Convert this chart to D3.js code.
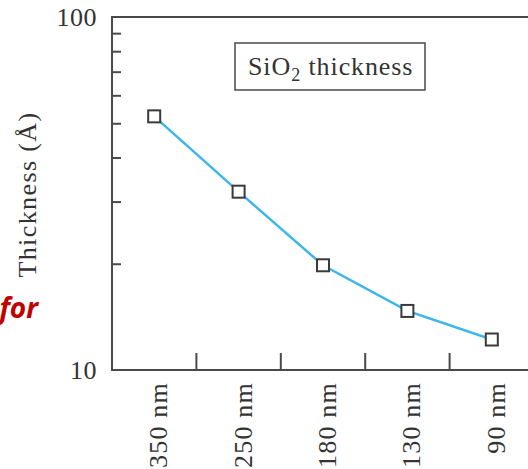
<!DOCTYPE html>
<html>
<head>
<meta charset="utf-8">
<script src="https://cdn.jsdelivr.net/npm/d3@7"></script>
<style>
  html, body { margin: 0; padding: 0; background: #fff; }
  svg { display: block; }
</style>
</head>
<body>
<svg id="chart" width="528" height="469"></svg>
<script>
const categories = ["350 nm", "250 nm", "180 nm", "130 nm", "90 nm"];
const thickness = [52.3, 32.0, 19.8, 14.7, 12.2];
const yMinorTicks = [20, 30, 40, 50, 60, 70, 80, 90];
const yTickLabels = [10, 100];
const yTitle = "Thickness (Å)";
const legendMain = "SiO";
const legendSub = "2";
const legendRest = " thickness";

(function () {
const svg = d3.select("#chart");
const pLeft = 112, pRight = 534, pTop = 17, pBottom = 370;
const serif = "'Liberation Serif', 'Times New Roman', serif";
const axisColor = "#4a4a4a";

const x = d3.scaleBand().domain(categories).range([pLeft, pRight]).padding(0);
const y = d3.scaleLog().domain([10, 100]).range([pBottom, pTop]);

// Plot frame
svg.append("rect")
  .attr("x", pLeft).attr("y", pTop)
  .attr("width", pRight - pLeft).attr("height", pBottom - pTop)
  .attr("fill", "none").attr("stroke", axisColor).attr("stroke-width", 2);

// Left minor ticks (inward)
const yAxis = d3.axisRight(y).tickValues(yMinorTicks).tickSize(9).tickSizeOuter(0).tickFormat("");
const gy = svg.append("g").attr("transform", `translate(${pLeft},0)`).call(yAxis);
gy.select(".domain").remove();
gy.selectAll("line").attr("stroke", axisColor).attr("stroke-width", 2);

// Y tick labels
svg.selectAll("text.ylab").data(yTickLabels).join("text")
  .attr("class", "ylab")
  .attr("x", 97).attr("y", d => y(d))
  .attr("dy", "0.35em")
  .attr("text-anchor", "end")
  .attr("font-family", serif).attr("font-size", 26)
  .attr("letter-spacing", 0.5)
  .attr("fill", "#333")
  .text(d => d);

// Bottom ticks at category boundaries (pointing up)
svg.selectAll("line.xtick").data(categories.slice(1)).join("line")
  .attr("class", "xtick")
  .attr("x1", d => x(d)).attr("x2", d => x(d))
  .attr("y1", pBottom).attr("y2", pBottom - 17)
  .attr("stroke", axisColor).attr("stroke-width", 2);

// X labels rotated
svg.selectAll("text.xlab").data(categories).join("text")
  .attr("class", "xlab")
  .attr("transform", d => `translate(${x(d) + x.bandwidth() / 2 + 13},382) rotate(-90)`)
  .attr("text-anchor", "end")
  .attr("font-family", serif).attr("font-size", 26)
  .attr("letter-spacing", 1.2)
  .attr("fill", "#333")
  .text(d => d);

// Y title
svg.append("text")
  .attr("transform", `translate(36,${(112 + 277) / 2}) rotate(-90)`)
  .attr("text-anchor", "middle")
  .attr("font-family", serif).attr("font-size", 26)
  .attr("letter-spacing", 1.4)
  .attr("fill", "#333")
  .text(yTitle);

// Line
const line = d3.line()
  .x((d, i) => x(categories[i]) + x.bandwidth() / 2)
  .y(d => y(d));
svg.append("path").datum(thickness)
  .attr("d", line)
  .attr("fill", "none")
  .attr("stroke", "#3db6ea")
  .attr("stroke-width", 2.5);

// Markers
const ms = 12;
svg.selectAll("rect.mk").data(thickness).join("rect")
  .attr("class", "mk")
  .attr("x", (d, i) => x(categories[i]) + x.bandwidth() / 2 - ms / 2)
  .attr("y", d => y(d) - ms / 2)
  .attr("width", ms).attr("height", ms)
  .attr("fill", "#fff").attr("stroke", "#3a3a3a").attr("stroke-width", 2);

// Legend box
svg.append("rect")
  .attr("x", 235).attr("y", 43).attr("width", 190).attr("height", 47)
  .attr("fill", "#fff").attr("stroke", axisColor).attr("stroke-width", 1.5);
const lt = svg.append("text")
  .attr("x", 248).attr("y", 75)
  .attr("font-family", serif).attr("font-size", 26)
  .attr("letter-spacing", 0.9)
  .attr("fill", "#333");
lt.append("tspan").text(legendMain);
lt.append("tspan").attr("dy", 6).attr("font-size", 18).text(legendSub);
lt.append("tspan").attr("dy", -6).text(legendRest);

// Slide text at left
svg.append("text")
  .attr("x", 38).attr("y", 318)
  .attr("text-anchor", "end")
  .attr("font-family", "'Open Sans', 'Liberation Sans', sans-serif")
  .attr("font-size", 28).attr("font-weight", "bold").attr("font-style", "italic")
  .attr("fill", "#c00000")
  .text("for");
})();
</script>
</body>
</html>
